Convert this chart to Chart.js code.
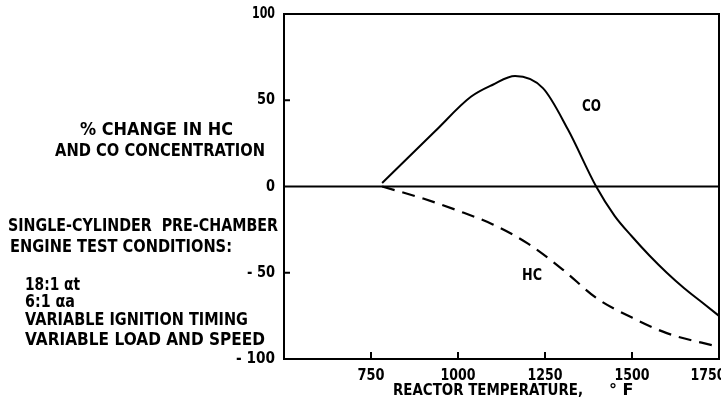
<!DOCTYPE html>
<html>
<head>
    <title>HC and CO vs Reactor Temperature</title>
    <script src="https://cdn.jsdelivr.net/npm/chart.js"></script>
    <style>
        body {
            margin: 0;
            padding: 0;
            background-color: #ffffff;
        }
        .wrap {
            position: relative;
            width: 721px;
            height: 404px;
        }
    </style>
</head>
<body>
    <div class="wrap">
        <canvas id="reactorChart" width="721" height="404"></canvas>
    </div>

    <script>
        // values
        var coTemps = [782, 934, 1037, 1100, 1164, 1244, 1316, 1397, 1450, 1500, 1550, 1600, 1650, 1700, 1750];
        var coChange = [2, 32, 52, 59, 64, 57, 33, 0, -17, -29, -40, -50, -59, -67, -75];

        var hcTemps = [782, 900, 1000, 1100, 1200, 1300, 1400, 1500, 1600, 1750];
        var hcChange = [0, -7, -14, -22, -33, -48, -65, -76, -85, -93];

        var xTicks = [750, 1000, 1250, 1500, 1750];
        var yTicks = [100, 50, 0, -50, -100];
        var yTickWidths = [23, 18, 9, 28, 39];

        var leftNotes = [
            { text: '% CHANGE IN HC', x: 80, y: 135, w: 153 },
            { text: 'AND CO CONCENTRATION', x: 55, y: 156, w: 210 },
            { text: 'SINGLE-CYLINDER  PRE-CHAMBER', x: 8, y: 231, w: 270 },
            { text: 'ENGINE TEST CONDITIONS:', x: 10, y: 252, w: 222 },
            { text: '18:1 \u03b1t', x: 25, y: 290, w: 55 },
            { text: '6:1 \u03b1a', x: 25, y: 307, w: 50 },
            { text: 'VARIABLE IGNITION TIMING', x: 25, y: 325, w: 223 },
            { text: 'VARIABLE LOAD AND SPEED', x: 25, y: 345, w: 240 }
        ];

        function toPoints(xs, ys) {
            return xs.map(function (x, i) { return { x: x, y: ys[i] }; });
        }

        // stretch (letter spacing) or squeeze (maxWidth) text to a given width
        function fitText(ctx, text, x, y, w) {
            ctx.letterSpacing = '0px';
            var m = ctx.measureText(text).width;
            if (m < w && text.length > 1) {
                ctx.letterSpacing = ((w - m) / (text.length - 1)).toFixed(2) + 'px';
                ctx.fillText(text, x, y);
                ctx.letterSpacing = '0px';
            } else {
                ctx.fillText(text, x, y, w);
            }
        }

        var figurePlugin = {
            id: 'figure',
            afterDraw: function (chart) {
                var ctx = chart.ctx;
                var xs = chart.scales.x;
                var ys = chart.scales.y;
                var a = chart.chartArea;
                ctx.save();
                ctx.fillStyle = '#000';
                ctx.strokeStyle = '#000';

                // frame
                ctx.lineWidth = 2;
                ctx.strokeRect(a.left, a.top, a.right - a.left, a.bottom - a.top);

                // zero line
                ctx.lineWidth = 1.8;
                var y0 = ys.getPixelForValue(0);
                ctx.beginPath();
                ctx.moveTo(a.left, y0);
                ctx.lineTo(a.right, y0);
                ctx.stroke();

                // inward tick marks
                ctx.lineWidth = 2;
                xTicks.forEach(function (v) {
                    var px = xs.getPixelForValue(v);
                    ctx.beginPath();
                    ctx.moveTo(px, a.bottom);
                    ctx.lineTo(px, a.bottom - 7);
                    ctx.stroke();
                });
                [50, -50].forEach(function (v) {
                    var py = ys.getPixelForValue(v);
                    ctx.beginPath();
                    ctx.moveTo(a.left, py);
                    ctx.lineTo(a.left + 6, py);
                    ctx.stroke();
                });

                // tick labels
                ctx.font = 'bold 16px "DejaVu Sans", sans-serif';
                ctx.textBaseline = 'middle';
                ctx.textAlign = 'right';
                yTicks.forEach(function (v, i) {
                    var label = v < 0 ? '- ' + (-v) : String(v);
                    ctx.fillText(label, a.left - 9, ys.getPixelForValue(v), yTickWidths[i]);
                });
                ctx.textBaseline = 'alphabetic';
                ctx.textAlign = 'center';
                xTicks.forEach(function (v) {
                    var px = xs.getPixelForValue(v);
                    var half = 17;
                    if (px + half > chart.width + 4) {
                        px = chart.width + 4 - half;
                    }
                    ctx.fillText(String(v), px, 380, String(v).length === 3 ? 27 : 35);
                });

                // axis title
                ctx.textAlign = 'left';
                ctx.font = 'bold 16px "DejaVu Sans", sans-serif';
                fitText(ctx, 'REACTOR TEMPERATURE,', 393, 395, 190);
                ctx.fillText('\u00b0 F', 609, 395);

                // series labels
                ctx.font = 'bold 15px "DejaVu Sans", sans-serif';
                ctx.fillText('CO', 582, 111, 19);
                ctx.fillText('HC', 522, 280, 20);

                // left notes
                ctx.font = 'bold 17px "DejaVu Sans", sans-serif';
                leftNotes.forEach(function (n) {
                    fitText(ctx, n.text, n.x, n.y, n.w);
                });
                ctx.restore();
            }
        };

        var reactorChart = new Chart(document.getElementById('reactorChart').getContext('2d'), {
            type: 'line',
            data: {
                datasets: [{
                    label: 'CO',
                    data: toPoints(coTemps, coChange),
                    borderColor: '#000',
                    borderWidth: 2,
                    pointRadius: 0,
                    cubicInterpolationMode: 'monotone'
                }, {
                    label: 'HC',
                    data: toPoints(hcTemps, hcChange),
                    borderColor: '#000',
                    borderWidth: 2.2,
                    borderDash: [13, 8],
                    pointRadius: 0,
                    cubicInterpolationMode: 'monotone'
                }]
            },
            options: {
                responsive: false,
                animation: false,
                layout: {
                    padding: { left: 284, top: 14, right: 2, bottom: 45 }
                },
                plugins: {
                    legend: { display: false },
                    tooltip: { enabled: false }
                },
                scales: {
                    x: {
                        type: 'linear',
                        min: 500,
                        max: 1750,
                        display: false
                    },
                    y: {
                        min: -100,
                        max: 100,
                        display: false
                    }
                }
            },
            plugins: [figurePlugin]
        });
    </script>
</body>
</html>
